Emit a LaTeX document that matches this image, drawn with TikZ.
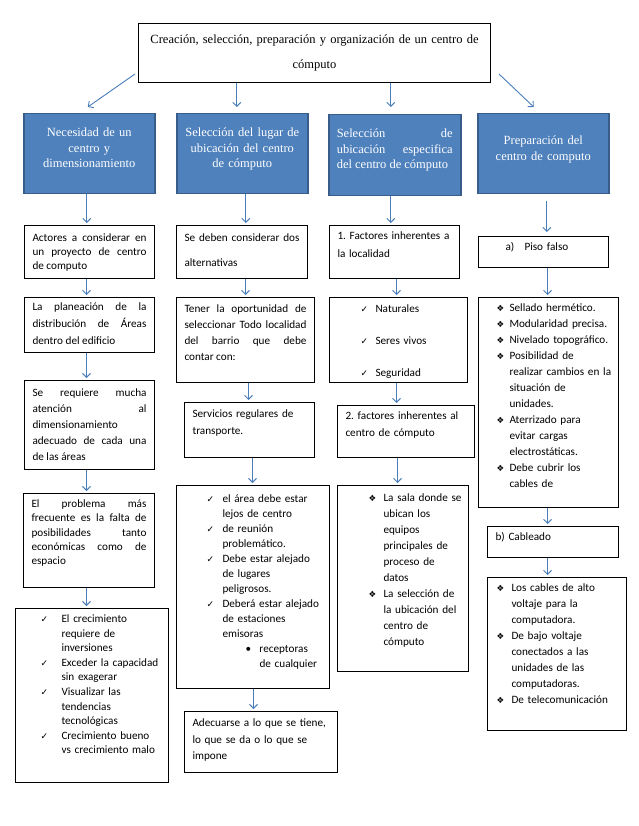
\documentclass[tikz,border=0pt]{standalone}
\usepackage{fontspec}
\setmainfont{Carlito}
\newfontfamily\serifhdr{Liberation Serif}
\newfontfamily\simbolos{DejaVu Sans}
\usetikzlibrary{arrows.meta,positioning}

\definecolor{azulhdr}{HTML}{4F81BD}
\definecolor{bordehdr}{HTML}{385D8A}
\definecolor{flecha}{HTML}{4A7EBB}

\newcommand{\txt}[1]{\fontsize{11.2}{#1}\selectfont\hyphenpenalty=10000\frenchspacing\relax}
\newcommand{\itm}[2]{\noindent\llap{\makebox[#1][l]{#2}}}
\newcommand{\apretado}{\rightskip=-6pt plus 3em\relax}
\newcommand{\chk}{{\simbolos\fontsize{9}{9}\selectfont ✓}}
\newcommand{\rombo}{{\simbolos\fontsize{8.5}{9}\selectfont ❖}}

\begin{document}
\begin{tikzpicture}[x=1pt, y=-1pt,
  tit/.style={draw=black, line width=1pt, anchor=north west, align=center,
    inner xsep=8pt, inner ysep=4pt, font=\serifhdr\fontsize{12.5}{25}\selectfont},
  hdr/.style={draw=bordehdr, fill=azulhdr, line width=1.5pt, text=white,
    anchor=north west, align=center, inner xsep=8pt, inner ysep=4pt,
    font=\serifhdr\fontsize{12.5}{15.5}\selectfont},
  caja/.style={draw=black, line width=1pt, anchor=north west, align=justify,
    inner xsep=8pt, inner ysep=4pt, font=\txt{16}},
  lista/.style={caja, align=left},
  flujo/.style={draw=flecha, line width=0.9pt, -{Straight Barb[length=4pt,width=8pt]},
    shorten >=2pt},
]
\useasboundingbox (0,0) rectangle (638,826);

%==================== TITULO ====================
\node[tit, text width=336pt, minimum height=59pt] (raiz) at (138,23)
  {Creación, selección, preparación y organización de un centro de\\ cómputo};

%==================== ENCABEZADOS ====================
\node[hdr, text width=115pt, text height=19pt, text depth=53pt] (h1) at (23,113)
  {Necesidad de un\\ centro y\\ dimensionamiento};
\node[hdr, text width=115pt, text height=19pt, text depth=53pt] (h2) at (176,113)
  {Selección del lugar de\\ ubicación del centro\\ de cómputo};
\node[hdr, align=justify, text width=116pt, text height=19pt, text depth=54pt] (h3) at (328,114)
  {Selección de\linebreak ubicación especifica\linebreak del centro de cómputo};
\node[hdr, text width=115pt, text height=27pt, text depth=45pt] (h4) at (477,113)
  {Preparación del\\ centro de computo};

%==================== COLUMNA 1 ====================
\node[caja, font=\txt{14}, text width=114pt, text height=12pt, text depth=33pt] (a1) at (24,225)
  {Actores a considerar en\linebreak un proyecto de centro\linebreak de computo};
\node[caja, font=\txt{17}, text width=114pt, text height=9pt, text depth=38pt] (a2) at (24,297)
  {La planeación de la\linebreak distribución de Áreas\linebreak dentro del edificio};
\node[caja, text width=114pt, text height=12pt, text depth=69pt] (a3) at (24,380)
  {Se requiere mucha\linebreak atención al\linebreak dimensionamiento\\ adecuado de cada una\linebreak de las áreas};
\node[caja, font=\txt{14.3}, text width=115pt, text height=10pt, text depth=76pt] (a4) at (23,493)
  {El problema más\linebreak frecuente es la falta de\linebreak posibilidades tanto\linebreak económicas como de\linebreak espacio};
\node[lista, font=\txt{14.6}, text width=137pt, text height=10pt, text depth=156pt] (a5) at (15,608)
  {\leftskip=38pt\apretado
  \itm{21pt}{\chk}El crecimiento\\ requiere de\\ inversiones\par
  \itm{21pt}{\chk}Exceder la capacidad\\ sin exagerar\par
  \itm{21pt}{\chk}Visualizar las\\ tendencias\\ tecnológicas\par
  \itm{21pt}{\chk}Crecimiento bueno\\ vs crecimiento malo\par};

%==================== COLUMNA 2 ====================
\node[caja, font=\txt{25}, text width=115pt, text height=12pt, text depth=33pt] (b1) at (176,225)
  {Se deben considerar dos\linebreak alternativas};
\node[caja, text width=122pt, text height=11pt, text depth=66pt] (b2) at (176,297)
  {Tener la oportunidad de\linebreak seleccionar Todo localidad\linebreak del barrio que debe\linebreak contar con:};
\node[lista, font=\txt{17}, text width=114pt, text height=11pt, text depth=36pt] (b3) at (184,402)
  {Servicios regulares de\\ transporte.};
\node[lista, font=\txt{15}, text width=137pt, text height=13pt, text depth=182pt] (b4) at (176,485)
  {\leftskip=38pt\apretado
  \itm{16pt}{\chk}el área debe estar\\ lejos de centro\par
  \itm{16pt}{\chk}de reunión\\ problemático.\par
  \itm{16pt}{\chk}Debe estar alejado\\ de lugares\\ peligrosos.\par
  \itm{16pt}{\chk}Deberá estar alejado\\ de estaciones\\ emisoras\par
  \leftskip=75pt
  \itm{14pt}{•}receptoras\\ de cualquier\par};
\node[lista, font=\txt{16.5}, text width=137pt, text height=11pt, text depth=42pt] (b5) at (184,711)
  {Adecuarse a lo que se tiene,\\ lo que se da o lo que se\\ impone};

%==================== COLUMNA 3 ====================
\node[lista, font=\txt{18}, text width=114pt, text height=10pt, text depth=35pt] (c1) at (329,225)
  {1. Factores inherentes a\\ la localidad};
\node[lista, font=\txt{32}, text width=122pt, text height=11pt, text depth=66pt] (c2) at (329,297)
  {\leftskip=38pt
  \itm{15pt}{\chk}Naturales\par
  \itm{15pt}{\chk}Seres vivos\par
  \itm{15pt}{\chk}Seguridad\par};
\node[lista, font=\txt{17}, text width=121pt, text height=10pt, text depth=34pt] (c3) at (337,405)
  {2. factores inherentes al\\ centro de cómputo};
\node[lista, text width=115pt, text height=12pt, text depth=166pt] (c4) at (337,485)
  {\leftskip=38pt\apretado
  \itm{15pt}{\rombo}La sala donde se\\ ubican los\\ equipos\\ principales de\\ proceso de\\ datos\par
  \itm{15pt}{\rombo}La selección de\\ la ubicación del\\ centro de\\ cómputo\par};

%==================== COLUMNA 4 ====================
\node[lista, text width=114pt, text height=10pt, text depth=13pt] (d1) at (478,236)
  {\leftskip=38pt \itm{19pt}{a)}Piso falso\par};
\node[lista, text width=124pt, text height=10pt, text depth=192pt] (d2) at (478,297)
  {\leftskip=23pt\apretado
  \itm{13pt}{\rombo}Sellado hermético.\par
  \itm{13pt}{\rombo}Modularidad precisa.\par
  \itm{13pt}{\rombo}Nivelado topográfico.\par
  \itm{13pt}{\rombo}Posibilidad de\\ realizar cambios en la\\ situación de\\ unidades.\par
  \itm{13pt}{\rombo}Aterrizado para\\ evitar cargas\\ electrostáticas.\par
  \itm{13pt}{\rombo}Debe cubrir los\\ cables de\par};
\node[lista, text width=115pt, text height=10pt, text depth=13pt] (d3) at (487,526)
  {b) Cableado};
\node[lista, text width=123pt, text height=10pt, text depth=135pt] (d4) at (487,577)
  {\leftskip=16pt\apretado
  \itm{15pt}{\rombo}Los cables de alto\\ voltaje para la\\ computadora.\par
  \itm{15pt}{\rombo}De bajo voltaje\\ conectados a las\\ unidades de las\\ computadoras.\par
  \itm{15pt}{\rombo}De telecomunicación\par};

%==================== FLECHAS ====================
\draw[flujo, shorten >=0pt] ([xshift=-3pt,yshift=9pt]raiz.south west) -- ([xshift=-1.5pt,yshift=6pt]h1.north);
\draw[flujo, shorten >=0pt] ([xshift=-5.5pt]h2.north |- raiz.south) -- ([xshift=-5.5pt,yshift=6pt]h2.north);
\draw[flujo, shorten >=0pt] ([xshift=-4pt]h3.north |- raiz.south) -- ([xshift=-4pt,yshift=7pt]h3.north);
\draw[flujo, shorten >=0pt] ([xshift=8pt,yshift=9pt]raiz.south east) -- ([xshift=-9.5pt,yshift=6pt]h4.north);

\draw[flujo] ([xshift=-2.5pt]h1.south) -- ([xshift=-2.5pt]h1.south |- a1.north);
\draw[flujo] ([xshift=-3pt]a1.south) -- ([xshift=-3pt]a1.south |- a2.north);
\draw[flujo] ([xshift=-3pt]a2.south) -- ([xshift=-3pt]a2.south |- a3.north);
\draw[flujo] ([xshift=-3pt]a3.south) -- ([xshift=-3pt]a3.south |- a4.north);
\draw[flujo] ([xshift=-2.5pt]a4.south) -- ([xshift=-2.5pt]a4.south |- a5.north);

\draw[flujo] ([xshift=3.5pt]h2.south) -- ([xshift=3.5pt]h2.south |- b1.north);
\draw[flujo] ([xshift=3.5pt]b1.south) -- ([xshift=3.5pt]b1.south |- b2.north);
\draw[flujo] ([xshift=3pt]b2.south) -- ([xshift=3pt]b2.south |- b3.north);
\draw[flujo] ([xshift=3pt]b3.south) -- ([xshift=3pt]b3.south |- b4.north);
\draw[flujo] ([xshift=0.5pt]b4.south) -- ([xshift=0.5pt]b4.south |- b5.north);

\draw[flujo] ([xshift=-4pt]h3.south) -- ([xshift=-4pt]h3.south |- c1.north);
\draw[flujo] ([xshift=2pt]c1.south) -- ([xshift=2pt]c1.south |- c2.north);
\draw[flujo] ([xshift=-2pt]c2.south) -- ([xshift=-2pt]c2.south |- c3.north);
\draw[flujo] ([xshift=-8.5pt]c3.south) -- ([xshift=-8.5pt]c3.south |- c4.north);

\draw[flujo, shorten <=7pt, shorten >=4pt] ([xshift=3.5pt]h4.south) -- ([xshift=3.5pt]h4.south |- d1.north);
\draw[flujo] ([xshift=4pt]d1.south) -- ([xshift=4pt]d1.south |- d2.north);
\draw[flujo] ([xshift=-1pt]d2.south) -- ([xshift=-1pt]d2.south |- d3.north);
\draw[flujo] ([xshift=-5.5pt]d3.south) -- ([xshift=-5.5pt]d3.south |- d4.north);

\end{tikzpicture}
\end{document}
